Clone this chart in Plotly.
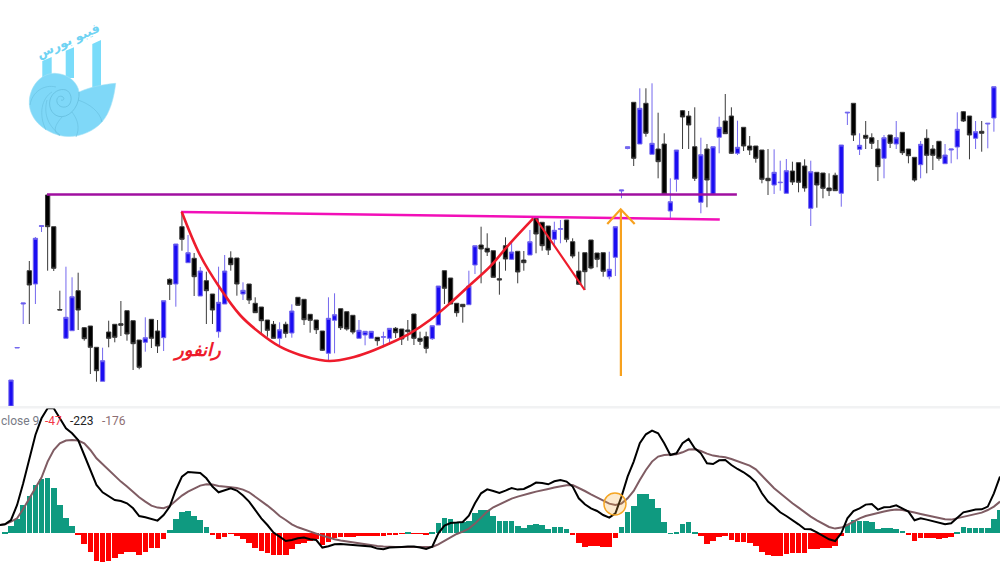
import plotly.graph_objects as go

W, H = 1000, 563

# Candles (price units, arbitrary scale)
opens = [1,59,103,136.3,123,180.5,212,180.3,97.5,68.7,
 76.3,116.3,79.3,81,59.7,25.7,75,82.7,83.3,96.3,
 86.3,67,64.7,87.7,76,69.3,127.7,123,180.3,144.3,
 148.7,111,126.3,113,75.3,103,149,149,113,123,
 103.7,100,87,82.7,68.7,82.7,74,109.7,107.7,92.7,
 87,76,53.7,86.7,98.3,95.3,91.7,68.7,72,68.7,
 69.7,69.7,68.7,78.7,78,77,93,68.7,70.3,68.3,
 82,136.3,129,103.7,102.7,102.3,142,162,158.7,156.3,
 128.3,161.3,147.7,155.7,147,152,188.7,184.7,181,167.7,
 177.7,187,165.3,136,154.3,167,154,154.3,130.3,149.7,
 216,258.5,304.7,263,303.7,252.7,258,263,196,227.7,
 296.3,291,260.3,204.7,258,212.7,269.7,286,291,253.7,
 279.7,261,261,257,228.7,222,224.3,213.7,236,244.3,
 241,198.7,234.7,234,219,231.7,213.7,294,303.7,257.7,
 271.7,269.3,258,248.7,272,263,274.7,258,249.7,242.3,
 268.7,258,265.7,243.3,257,260,295.3,291,268.7,275.7,
 283,289]
highs = [27,59.5,104,146,170,181.3,212,180.3,116.3,140.3,
 129.7,134.3,80,81,59.7,59.3,86.3,83,106,96.3,
 86.3,67,89.7,87.7,87,106.3,128.7,163,195.3,172,
 154,140,135.3,113,140.3,152,155.7,149,124.7,123,
 109.7,100,87,86,84.7,85.3,102.7,109.7,107.7,92.7,
 87,76,109.7,113.7,98.3,95.3,91.7,87,76,75.7,
 70,75.3,78.7,80,78,87,93,75.3,75.3,81.3,
 121,136.3,129,103.7,102.7,136.3,161.3,180.3,173.7,156.3,
 145.3,169.7,164.3,155.7,156,177,188.7,184.7,181,185.3,
 187,187,168.7,155.3,154.3,167,154,154.3,155.3,180.3,
 217,260.3,304.7,318.7,318.7,323.7,294.3,273.7,228.7,257,
 297,296,299.7,269.3,263,260.3,290.3,313,299.7,286.3,
 279.7,271,261,257,258,257.7,246.3,248,245.3,244.3,
 247.7,246.3,234.7,234,233.7,234.3,262,294.7,303.7,273.7,
 286,273.7,267,272,272,286,274.7,258,249.7,266,
 277.7,262,265.7,263,258,294.7,296,291,286,286,
 283.7,320.3]
lows = [1,59,83,83,103,175,136.3,136,97,68.7,
 76.3,77,66.3,33,25.3,25.7,59.7,64.7,71,66.3,
 37,37.7,55.3,59,54,56,107,100.3,156.3,144.3,
 111,111,83,83,69.3,103,136.3,111.3,107,103,
 94.3,73,70.3,68.7,62,69.3,69.3,101,82,74.3,
 73,56,47,53.7,77,76.3,72.7,68.7,61.7,68.7,
 61.3,59.7,62,69,62,66.3,62,62,53.7,67,
 82,103,103,90.3,84.3,102.3,133,123.7,151,129.7,
 112.3,136.3,147,123.7,136.3,152,153.7,156.3,152,162,
 163.7,164.7,148.7,122.7,117,137.7,139.7,130.3,127.7,131,
 208.7,257.7,241,263,270.3,252.7,228.7,213,188.7,215.3,
 258,258,226,193.7,199.7,212.7,253.7,273.3,253,252,
 256,252,244.3,223.7,212,213,216.3,213.7,222,214.7,
 215.3,181,199.3,208.7,211,216,200.3,282,266,252,
 258,258,226,228.7,259,258,252,243.7,225.3,228.7,
 233.7,237,246.3,243.3,243.7,247.7,285,247.7,258,255.3,
 258.7,275.3]
closes = [27,59.5,104,122,168.7,181.3,180.3,138.7,97,89.7,
 110.3,97,68.3,59.7,36.3,46.3,68.7,69.7,81.7,73,
 63.3,39.7,69.3,68.7,61,106.3,122.7,163,167.7,154.3,
 130.3,136,116.3,97,104.7,136,142.3,123,116.7,107,
 94.3,86.3,76.7,68.7,77.3,73.7,96,101.7,87.3,86.7,
 77.3,56.7,88.7,92.3,79.3,78,75,76.7,75.7,75.7,
 66.3,70.3,78.7,74.3,68,75.3,68.7,65.7,58.7,81.3,
 121,118.7,103,94.3,100.3,121,161.3,158,155,129.7,
 127,148,155,135,144.3,165.3,173,161.3,157,176.7,
 178.3,167.7,151,122.7,135.3,139,147.7,135.7,137.7,180.3,
 217,260.3,248.7,298.7,273.7,263.7,245.3,213,205.3,257,
 290,282,228.7,252.3,227,260.3,279.7,273.3,253.7,259.7,
 261,257,248.7,227.7,226.3,234.7,224.7,236.3,225,224.7,
 219,235.3,222,218.7,216.3,216.3,262,294.7,272,261.7,
 268.7,263.7,240.3,269.3,263.7,269.3,254.3,251.3,227,262.7,
 251.7,251.7,248.7,252,258,277.7,286,272,275.3,273.7,
 283.7,320.3]

# MACD panel, index -2 .. 162
histogram = [0,0.7,7.7,14.3,28.3,37.3,48.3,54.3,55.3,45,
 28.3,15,7.7,-1,-10.7,-19,-27.3,-28.7,-27.7,-25,
 -20.7,-18.7,-18.7,-21.7,-18.3,-15,-14.3,-6,3,14,
 21.3,22.3,17,13.3,6.3,-2,-6,-3.7,-0.7,-3,
 -5.7,-9.3,-14.3,-17.3,-20,-21.7,-22,-21.3,-15.7,-11,
 -9.3,-7.7,-6,-12,-8.3,-5,-4,-4,-4,-3,
 -2.7,-3,-3,-3,-1.7,-1,-0.7,0.4,-0.4,-0.7,
 -1.3,1,10.3,15,14,11.3,11.3,12.7,20,23,
 23.7,17.7,12.7,12,12,7.7,5.3,8,9.7,8,
 4.7,6.3,6.7,4,-1,-9.7,-13.3,-12.7,-12.7,-14,
 -14,-5,6.3,21.7,27.7,39,39,34.3,25.3,11.7,
 0.3,1.7,9.3,11,0.7,-2.3,-10.3,-7.7,-4,-2.3,
 -6.7,-8.3,-9,-10,-13,-18.7,-21.7,-22.3,-22.7,-21,
 -20,-20,-19.7,-16,-15.3,-14.3,-14.3,-12.3,-2.7,9,
 13.3,12,12.7,11,4.3,5.7,5,4.7,2,-1,
 -8,-5,-5,-5,-5.7,-5,-4,1.7,6.7,5.7,
 5.7,5,5.7,14,23.3]
macd_line = [8,9,13.3,28.3,50,75,98.3,115,125,125,
 115,105,100,93.3,78.3,63.3,48.3,41,37.3,33.3,
 32.3,30,25,17.3,16,14.3,12.7,18.3,26.7,43.3,
 56.7,61.3,60.7,60.3,55,46.7,41,43.3,45,42.7,
 37.7,31.7,23.3,15,8.3,0.7,-3.3,-7.7,-6.7,-5,
 -4.3,-6,-6.7,-14.3,-13,-11,-10.7,-11.3,-12,-12.3,
 -13,-13.3,-15.3,-16,-14.3,-13.7,-13.7,-13.3,-13.3,-14.3,
 -15.7,-13.3,0,7.7,10.3,10.7,11.3,17.7,30,40,
 44,42.3,40.3,42.7,45.3,43.7,44.3,47.3,50.7,50.3,
 49,52,53.3,51.7,46.7,35,29,25,22.3,18.3,
 15.7,20,36.7,56.7,71.7,90,99,102.7,100,90,
 78.3,80,90,94.3,85,80,70,69.3,73,73.3,
 68.3,64.3,61,56.7,51,40,31.7,26.7,21,17.3,
 13.3,9,4.3,4,1,-2.3,-6,-7.7,0,15,
 22.3,25,28.7,29.3,23.7,26,26.3,28,25,21.7,
 13,15,13.7,12,10.3,9,10,16,21,22.3,
 23.7,24,26.7,40,56.7]
signal_line = [8,9,11.7,15,24.3,35,45,55.7,71.7,83.3,
 90,92.7,93.3,92.7,90,83.3,75,69,62.7,56.7,
 51.7,46.7,41,36,31.7,27.7,25.7,25,27.3,32.3,
 37.7,41.7,45,47.7,49,48.7,47.3,46.3,46,45.3,
 43.7,41,36.7,31.7,27.7,22.7,17.3,13.3,9,6,
 3.7,1.7,-0.3,-2.3,-4.3,-6,-7.3,-8.3,-9.3,-10.3,
 -11.3,-12,-12.7,-13.3,-13.7,-13.7,-13.7,-13.7,-13.7,-14,
 -14,-13.7,-11,-7.7,-3.7,-0.7,1.7,4.7,9.7,16,
 21.7,26,29,32,34.7,36.7,38,40,41.7,43.3,
 44.3,45.7,47,48,48.3,45.7,42.3,39,35.7,32.3,
 29.7,28.3,29.7,35,42.3,53.3,63.3,71.7,76.7,78.3,
 78.3,79,81,83.7,84,82.3,79.7,77.7,76.7,76,
 74.3,72.3,70,67.7,64,57.7,51,45,40,34.7,
 30,25.7,21,16.7,13,9.3,6.3,4.7,5.7,8.3,
 11.7,15,17.3,19,20.3,21.7,23,23.7,23.3,22.3,
 20.7,19.3,18,16.7,15.3,14,13.7,15,16.7,17.7,
 19,20.7,23.3,26.7,31.7]

# Hand-drawn overlays on the price panel (candle index, price)
cup_x = [27.96,30.96,34.23,37.51,40.79,44.06,47.34,50.61,52.25,55.53,
         58.8,62.08,65.36,68.63,71.91,75.18,78.46,81.74,85.55]
cup_p = [195.3,152,119,92,74,60.3,52,47,46,49,
         55.3,63.7,73.7,87,103.7,122,140.3,163.7,188.7]
handle_x = [86.0, 93.97]
handle_p = [188, 117]
resistance_x = [5.9, 118.9]
resistance_p = [212.5, 212.5]
neckline_x = [27.85, 116.1]
neckline_p = [195, 187.5]
arrow_x = [99.9, 99.9]
arrow_p = [31, 197]
arrowhead_x = [97.67, 99.87, 102.16]
arrowhead_p = [183, 197.7, 183]
cross_x = [98.93]
cross_v = [29.3]

legend_labels = ["close 9", "-47", "-223", "-176"]
title_pattern = "رانفور"
logo_text = "فیبو بورس"

GREEN, RED = "#0f9a80", "#fe0000"
macd_index = list(range(-2, 163))
candle_index = list(range(len(opens)))


def px_path(tokens):
    """Logo outline tokens in page pixels -> paper-coordinate SVG path."""
    out, is_x = [], True
    for t in tokens.split():
        if t.isalpha():
            out.append(t)
            is_x = True
        else:
            v = float(t)
            out.append(f"{v / W:.5f}" if is_x else f"{1 - v / H:.5f}")
            is_x = not is_x
    return " ".join(out)


fig = go.Figure()
fig.add_trace(go.Bar(x=macd_index, y=histogram, width=0.92, xaxis="x", yaxis="y2",
                     marker=dict(color=[GREEN if v >= 0 else RED for v in histogram], line_width=0)))
fig.add_trace(go.Scatter(x=macd_index, y=signal_line, mode="lines", yaxis="y2",
                         line=dict(color="#7f5c63", width=2)))
fig.add_trace(go.Scatter(x=macd_index, y=macd_line, mode="lines", yaxis="y2",
                         line=dict(color="#000000", width=2)))
fig.add_trace(go.Scatter(x=cross_x, y=cross_v, mode="markers", yaxis="y2",
                         marker=dict(size=22, color="rgba(245,170,60,0.25)",
                                     line=dict(color="#f5a623", width=1.5))))
fig.add_trace(go.Candlestick(x=candle_index, open=opens, high=highs, low=lows, close=closes,
                             yaxis="y", whiskerwidth=0,
                             increasing=dict(line=dict(color="#7468ee", width=1), fillcolor="#1a0cf2"),
                             decreasing=dict(line=dict(color="#3a3a3a", width=1), fillcolor="#000000")))
for xs, ps, col, wd, shp in [
    (resistance_x, resistance_p, "#a00fa0", 2.5, "linear"),
    (neckline_x, neckline_p, "#f20fb8", 2.5, "linear"),
    (cup_x, cup_p, "#ee1c2c", 2.6, "spline"),
    (handle_x, handle_p, "#ee1c2c", 2.2, "linear"),
    (arrow_x, arrow_p, "#f7a11e", 2.2, "linear"),
    (arrowhead_x, arrowhead_p, "#f7a11e", 2.2, "linear"),
]:
    fig.add_trace(go.Scatter(x=xs, y=ps, mode="lines", yaxis="y",
                             line=dict(color=col, width=wd, shape=shp)))

LOGO = "#7fd8f8"
SEPTA = "#66bedd"
shapes = [
    dict(type="rect", xref="paper", yref="paper", x0=0, x1=1, y0=1 - 408.5 / H, y1=1 - 406 / H,
         fillcolor="#f1f2f3", line_width=0),
    dict(type="path", xref="paper", yref="paper", fillcolor="#7adcfa", line_width=0,
         path=px_path("M 42.3 61 L 51.7 57 L 51.7 78 L 42.3 78 Z")),
    dict(type="path", xref="paper", yref="paper", fillcolor="#7adcfa", line_width=0,
         path=px_path("M 65.7 50.7 L 74 47.3 L 74 78 L 65.7 78 Z")),
    dict(type="path", xref="paper", yref="paper", fillcolor="#7adcfa", line_width=0,
         path=px_path("M 92.3 44 L 101 40 L 101 90 L 92.3 90 Z")),
    dict(type="path", xref="paper", yref="paper", fillcolor=LOGO, line=dict(color="#a5e2f6", width=0.6),
         path=px_path("M 115.7 83.3 C 108 84 92 86 79 92 C 78 84 70 74 55 73.3 C 40 73 29 88 29.3 103.3 "
                      "C 29.5 118 42 131 60 135.5 C 75 139 92 133 102 122 C 110 113 114 98 115.7 83.3 Z")),
    dict(type="path", xref="paper", yref="paper", line=dict(color=SEPTA, width=0.8),
         path=px_path("M 79 92 C 80 104 72 116 62 116.7 C 53 117 48 108 50 100 C 52 92 60 88 66 90 "
                      "C 71 92 73 100 69 105 C 65 109 58 107 57 102 C 56 97 60 95 63 97 C 65 99 63 101 61 100")),
    dict(type="path", xref="paper", yref="paper", line=dict(color=SEPTA, width=0.6),
         path=px_path("M 47 100 C 44 112 46 124 60 135 M 52 92 C 42 98 38 114 46 130 M 56 87 C 44 84 32 92 30 105 "
                      "M 62 117 C 55 125 52 132 60 135.5 M 72 112 C 78 120 80 128 76 137 M 78 100 C 90 104 100 112 102 122")),
]

annotations = [
    dict(text=f"<b><i>{title_pattern}</i></b>", x=196 / W, y=1 - 350 / H, xref="paper", yref="paper", showarrow=False,
         xanchor="center", yanchor="middle",
         font=dict(family="DejaVu Sans", size=18, color="#ee1c2c")),
    dict(text=f"<b>{logo_text}</b>", x=68 / W, y=1 - 40 / H, xref="paper", yref="paper", showarrow=False, textangle=-24,
         xanchor="center", yanchor="middle",
         font=dict(family="DejaVu Sans", size=12.5, color="#6fd3f3")),
]
for label, px, col in zip(legend_labels, [-1, 42.5, 67.5, 99.5], ["#787b86", "#f23645", "#222222", "#8d6e73"]):
    annotations.append(dict(text=label, x=px / W, y=1 - 421 / H, xref="paper", yref="paper", showarrow=False,
                            xanchor="left", yanchor="middle",
                            font=dict(family="Roboto", size=12, color=col)))

fig.update_layout(
    width=W, height=H, margin=dict(l=0, r=0, t=0, b=0),
    paper_bgcolor="#ffffff", plot_bgcolor="#ffffff", showlegend=False,
    boxmode="overlay", boxgap=0.3, boxgroupgap=0,
    bargap=0, hovermode=False,
    xaxis=dict(range=[-1.802, 162.0], visible=False, rangeslider=dict(visible=False), fixedrange=True),
    yaxis=dict(range=[0, 407], domain=[1 - 407 / H, 1], visible=False, fixedrange=True),
    yaxis2=dict(range=[-29.7, 125.3], domain=[0, 1 - 408 / H], visible=False, fixedrange=True),
    shapes=shapes, annotations=annotations,
)
fig.write_html("out.html", post_script="document.body.style.margin='0';document.body.style.overflow='hidden';",
               config=dict(displayModeBar=False))
